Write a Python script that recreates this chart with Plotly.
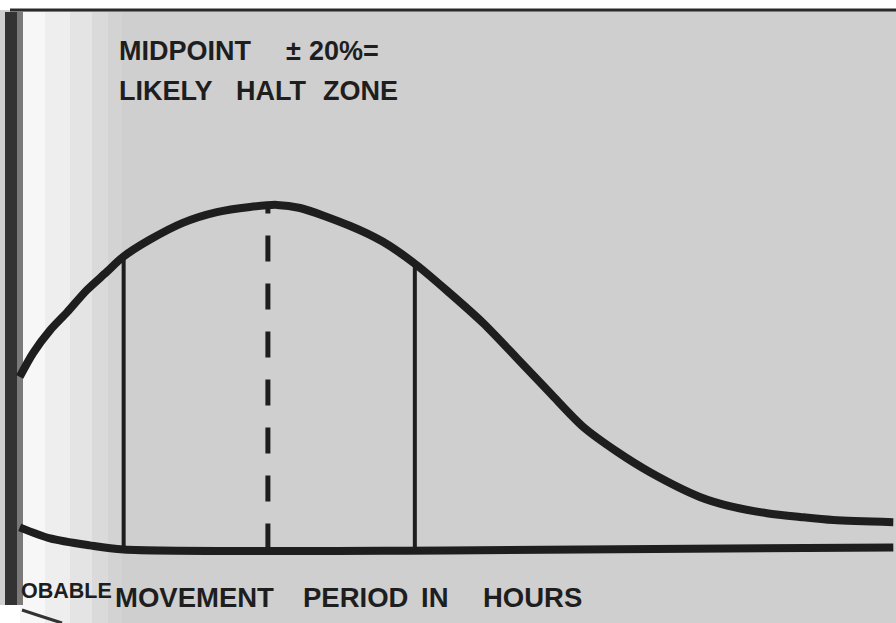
import numpy as np
import plotly.graph_objects as go

# ---- data (arbitrary units) ----
curve_x = [2.2, 3.7, 5.6, 7.5, 9.7, 11.9, 13.7, 16.7, 20.4, 24.2, 27.9, 30.9,
           33.5, 39.1, 42.7, 46.5, 50.2, 53.9, 57.7, 61.4, 65.1, 68.9,
           72.5, 78.1, 81.8, 85.6, 89.3, 93.0, 99.7]
curve_y = [49.9, 56.8, 63.4, 68.6, 75.0, 80.2, 84.5, 89.5, 94.4, 97.5, 99.0, 99.6,
           98.7, 93.5, 89.0, 82.2, 74.1, 65.5, 55.3, 45.2, 35.4, 28.2,
           22.4, 15.2, 12.3, 10.5, 9.4, 8.5, 7.9]
base_x = [2.2, 5.6, 10.0, 13.8, 50.0, 99.7]
base_y = [6.4, 3.2, 1.2, 0.0, -0.3, 0.6]
zone_low = 13.8
midpoint = 29.9
zone_high = 46.3
title_words_1 = ["MIDPOINT", "\u00b1", "20%="]
title_words_2 = ["LIKELY", "HALT", "ZONE"]
axis_words = ["OBABLE", "MOVEMENT", "PERIOD", "IN", "HOURS"]

W, H = 896, 623
fig = go.Figure()
ink = "#1e1e1e"

fig.add_trace(go.Scatter(x=curve_x, y=curve_y, mode="lines",
                         line=dict(color=ink, width=8, shape="spline", smoothing=0.8),
                         hoverinfo="skip", showlegend=False))
fig.add_trace(go.Scatter(x=base_x, y=base_y, mode="lines",
                         line=dict(color=ink, width=8, shape="spline", smoothing=0.8),
                         hoverinfo="skip", showlegend=False))
for xv in (zone_low, zone_high):
    top = float(np.interp(xv, curve_x, curve_y))
    fig.add_trace(go.Scatter(x=[xv, xv], y=[0, top], mode="lines",
                             line=dict(color=ink, width=4),
                             hoverinfo="skip", showlegend=False))
mid_top = float(np.interp(midpoint, curve_x, curve_y))
fig.add_trace(go.Scatter(x=[midpoint, midpoint], y=[0, mid_top], mode="lines",
                         line=dict(color=ink, width=5, dash="26px,22px"),
                         hoverinfo="skip", showlegend=False))

# ---- background decoration (scanned page look) ----
def px(x):
    return x / W

def py(y):
    return 1 - y / H

shapes = []
shapes.append(dict(type="rect", xref="paper", yref="paper", x0=0, x1=1,
                   y0=0, y1=py(10), fillcolor="#cfcfcf", line_width=0, layer="below"))
strip = [(18, 45, "#f7f7f7"), (45, 70, "#eeeeee"), (70, 92, "#e4e4e4"),
         (92, 108, "#dadada"), (108, 122, "#d3d3d3")]
for a, b, c in strip:
    shapes.append(dict(type="rect", xref="paper", yref="paper", x0=px(a), x1=px(b),
                       y0=0, y1=py(12), fillcolor=c, line_width=0, layer="below"))
shapes.append(dict(type="rect", xref="paper", yref="paper", x0=px(5), x1=px(17),
                   y0=py(605), y1=py(12), fillcolor="#333333", line_width=0, layer="below"))
shapes.append(dict(type="rect", xref="paper", yref="paper", x0=px(17), x1=px(23),
                   y0=py(605), y1=py(12), fillcolor="#7a7a7a", line_width=0, layer="below"))
shapes.append(dict(type="rect", xref="paper", yref="paper", x0=0, x1=px(20),
                   y0=0, y1=py(605), fillcolor="white", line_width=0, layer="below"))
shapes.append(dict(type="line", xref="paper", yref="paper", x0=px(10), x1=1,
                   y0=py(10), y1=py(10), line=dict(color="#2a2a2a", width=3)))
shapes.append(dict(type="path", xref="paper", yref="paper",
                   path=f"M {px(22)},{py(610)} Q {px(40)},{py(616)} {px(62)},{py(623)}",
                   line=dict(color="#333333", width=3)))
fig.update_layout(shapes=shapes)

def word(t, x, y, size):
    fig.add_annotation(text=t, xref="paper", yref="paper", x=px(x), y=py(y),
                       xanchor="left", yanchor="middle", showarrow=False,
                       font=dict(family="Liberation Sans", size=size, color=ink,
                                 weight="bold"))

for t, x in zip(title_words_1, [117, 284, 307]):
    word(t, x, 51, 27)
for t, x in zip(title_words_2, [117, 234, 321]):
    word(t, x, 91, 27)
word(axis_words[0], 19, 591, 21.5)
for t, x in zip(axis_words[1:], [113, 301, 419, 481]):
    word(t, x, 597, 27.5)

fig.update_layout(
    width=W, height=H,
    margin=dict(l=0, r=0, t=0, b=0),
    paper_bgcolor="white",
    plot_bgcolor="rgba(0,0,0,0)",
    xaxis=dict(range=[0, 100], visible=False, fixedrange=True),
    yaxis=dict(range=[-(H - 549.5) / 3.46, 549.5 / 3.46], visible=False, fixedrange=True),
    showlegend=False,
)

fig.write_html("out.html", config={"displayModeBar": False},
               post_script="document.body.style.margin='0px';")
